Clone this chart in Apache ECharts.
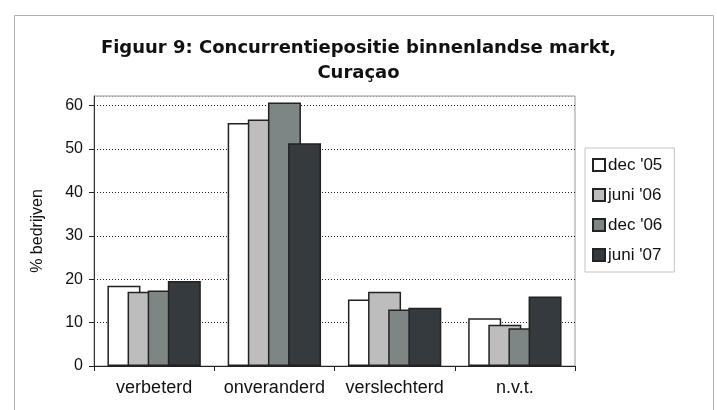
<!DOCTYPE html>
<html>
<head>
<meta charset="utf-8">
<script src="https://cdn.jsdelivr.net/npm/echarts@6/dist/echarts.min.js"></script>
<style>
  html, body { margin: 0; padding: 0; background: #fff; }
  #chart { width: 717px; height: 410px; }
</style>
</head>
<body>
<div id="chart"></div>
<script>
const categories = ["verbeterd", "onveranderd", "verslechterd", "n.v.t."];
const seriesNames = ["dec '05", "juni '06", "dec '06", "juni '07"];
const dec05 = [18.5, 56.0, 15.3, 11.0];
const juni06 = [17.1, 56.8, 17.1, 9.5];
const dec06 = [17.4, 60.7, 13.0, 8.7];
const juni07 = [19.6, 51.3, 13.4, 16.0];
const colors = ["#ffffff", "#bdbdbd", "#7e8585", "#343a3d"];

const values = [dec05, juni06, dec06, juni07];
const font = "'Liberation Sans', Arial, sans-serif";

const myChart = echarts.init(document.getElementById("chart"));

const options = {
  animation: false,
  textStyle: { fontFamily: font },
  title: {
    text: "Figuur 9: Concurrentiepositie binnenlandse markt,\nCuraçao",
    left: "center",
    top: 31,
    textStyle: {
      fontSize: 18,
      fontWeight: "bold",
      color: "#111",
      lineHeight: 25,
      fontFamily: "'DejaVu Sans', sans-serif",
    },
  },
  legend: {
    orient: "vertical",
    left: 585,
    top: 148,
    padding: [8, 12, 8, 7],
    borderColor: "#c4c4c4",
    borderWidth: 1,
    itemWidth: 12,
    itemHeight: 12,
    itemGap: 12,
    icon: "rect",
    textStyle: { fontSize: 17, color: "#111", lineHeight: 18, padding: [0, 0, 0, -2] },
    data: seriesNames,
  },
  graphic: [
    {
      type: "rect",
      left: 12,
      top: 13,
      shape: { width: 699, height: 420 },
      style: { fill: "none", stroke: "#b0b0b0", lineWidth: 1 },
      silent: true,
    },
  ],
  grid: {
    left: 94,
    right: 142,
    top: 96,
    bottom: 44,
    show: true,
    borderColor: "#9a9a9a",
    borderWidth: 1,
  },
  xAxis: {
    type: "category",
    data: categories,
    axisLine: { lineStyle: { color: "#222", width: 1 } },
    axisTick: { show: true, length: 5, lineStyle: { color: "#222" } },
    axisLabel: { fontSize: 18, color: "#111", margin: 13, interval: 0, hideOverlap: false },
  },
  yAxis: {
    type: "value",
    min: 0,
    max: 62.2,
    interval: 10,
    name: "% bedrijven",
    nameLocation: "middle",
    nameRotate: 90,
    nameGap: 48,
    nameTextStyle: { fontSize: 16, color: "#111" },
    axisLine: { show: true, lineStyle: { color: "#333", width: 1 } },
    axisTick: { show: true, length: 5, lineStyle: { color: "#222" } },
    axisLabel: { fontSize: 16, color: "#111", margin: 11, showMaxLabel: false },
    splitLine: {
      show: true,
      lineStyle: {
        type: [1, 2],
        color: ["#222", "#222", "#222", "#222", "#222", "#222", "#222", "#9a9a9a"],
      },
    },
  },
  series: seriesNames.map((name, i) => ({
    name: name,
    type: "bar",
    data: values[i],
    barWidth: 33,
    barGap: "-39%",
    itemStyle: {
      color: colors[i],
      borderColor: "#222",
      borderWidth: 1.5,
    },
  })),
};

myChart.setOption(options);
</script>
</body>
</html>
